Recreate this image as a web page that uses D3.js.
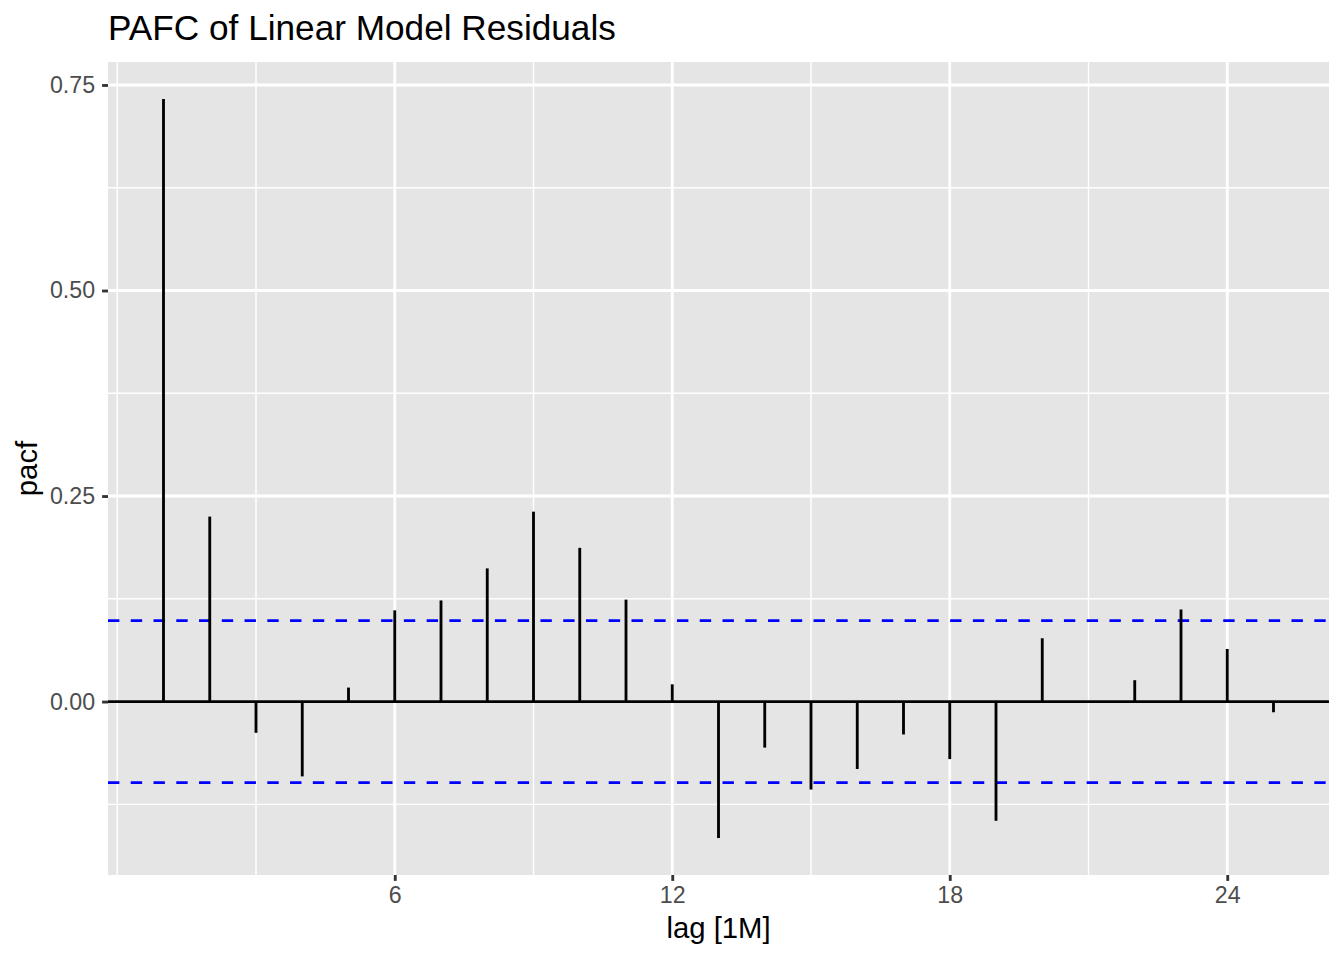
<!DOCTYPE html>
<html>
<head>
<meta charset="utf-8">
<script src="https://cdn.jsdelivr.net/npm/d3@7"></script>
<style>
  html, body { margin: 0; padding: 0; background: #fff; }
  svg { display: block; }
  text { font-family: "Liberation Sans", Arial, Helvetica, sans-serif; }
</style>
</head>
<body>
<svg id="chart" width="1344" height="960"></svg>
<script>
// ---- data ----
const lags = [1,2,3,4,5,6,7,8,9,10,11,12,13,14,15,16,17,18,19,20,21,22,23,24,25];
const pacfValues = [0.733,0.225,-0.038,-0.091,0.017,0.111,0.123,0.162,0.231,0.187,0.124,0.021,
                    -0.166,-0.056,-0.107,-0.082,-0.040,-0.070,-0.145,0.077,0.000,0.026,0.112,0.064,-0.013];
const ciBound = 0.0985;
const xTicks = [6,12,18,24];
const xMinor = [0,3,9,15,21];
const yTicks = [0,0.25,0.5,0.75];
const yTickLabels = ["0.00","0.25","0.50","0.75"];
const yMinor = [-0.125,0.125,0.375,0.625];
const titleText = "PAFC of Linear Model Residuals";
const xTitle = "lag [1M]";
const yTitle = "pacf";

// ---- layout ----
const panel = {left: 108, right: 1329, top: 62, bottom: 875};
const svg = d3.select("#chart");

const lagMin = d3.min(lags), lagMax = d3.max(lags);
const xPad = (lagMax - lagMin) * 0.05;
const x = d3.scaleLinear().domain([lagMin - xPad, lagMax + xPad]).range([panel.left, panel.right]);
const vMin = Math.min(0, d3.min(pacfValues), -ciBound), vMax = d3.max(pacfValues);
const yPad = (vMax - vMin) * 0.05;
const y = d3.scaleLinear().domain([vMin - yPad, vMax + yPad]).range([panel.bottom, panel.top]);

const lw = 2.85;

// panel background
svg.append("rect")
  .attr("x", panel.left).attr("y", panel.top)
  .attr("width", panel.right - panel.left).attr("height", panel.bottom - panel.top)
  .attr("fill", "#E5E5E5");

const grid = svg.append("g");
grid.selectAll(".xminor").data(xMinor).join("line")
  .attr("x1", d => x(d)).attr("x2", d => x(d))
  .attr("y1", panel.top).attr("y2", panel.bottom)
  .attr("stroke", "#fff").attr("stroke-width", lw / 2);
grid.selectAll(".yminor").data(yMinor).join("line")
  .attr("y1", d => y(d)).attr("y2", d => y(d))
  .attr("x1", panel.left).attr("x2", panel.right)
  .attr("stroke", "#fff").attr("stroke-width", lw / 2);
grid.selectAll(".xmajor").data(xTicks).join("line")
  .attr("x1", d => x(d)).attr("x2", d => x(d))
  .attr("y1", panel.top).attr("y2", panel.bottom)
  .attr("stroke", "#fff").attr("stroke-width", lw);
grid.selectAll(".ymajor").data(yTicks).join("line")
  .attr("y1", d => y(d)).attr("y2", d => y(d))
  .attr("x1", panel.left).attr("x2", panel.right)
  .attr("stroke", "#fff").attr("stroke-width", lw);

// confidence bounds
svg.selectAll(".ci").data([ciBound, -ciBound]).join("line")
  .attr("x1", panel.left).attr("x2", panel.right)
  .attr("y1", d => y(d)).attr("y2", d => y(d))
  .attr("stroke", "#0000FF").attr("stroke-width", lw)
  .attr("stroke-dasharray", "11.38,11.38");

// zero line
svg.append("line")
  .attr("x1", panel.left).attr("x2", panel.right)
  .attr("y1", y(0)).attr("y2", y(0))
  .attr("stroke", "#000").attr("stroke-width", lw);

// spikes
svg.selectAll(".spike").data(lags).join("line")
  .attr("x1", d => x(d)).attr("x2", d => x(d))
  .attr("y1", y(0)).attr("y2", (d, i) => y(pacfValues[i]))
  .attr("stroke", "#000").attr("stroke-width", lw);

// axes
const xAxis = d3.axisBottom(x).tickValues(xTicks).tickSize(5.9).tickPadding(6).tickFormat(d3.format("d"));
const gx = svg.append("g").attr("transform", `translate(0,${panel.bottom})`).call(xAxis);
gx.select(".domain").remove();
gx.selectAll(".tick line").attr("stroke", "#333").attr("stroke-width", lw);
gx.selectAll(".tick text").attr("fill", "#4D4D4D").attr("font-size", 23.2)
  .attr("font-family", "Liberation Sans, Arial, sans-serif");

const yAxis = d3.axisLeft(y).tickValues(yTicks).tickSize(5.9).tickPadding(7)
  .tickFormat((d, i) => yTickLabels[i]);
const gy = svg.append("g").attr("transform", `translate(${panel.left},0)`).call(yAxis);
gy.select(".domain").remove();
gy.selectAll(".tick line").attr("stroke", "#333").attr("stroke-width", lw);
gy.selectAll(".tick text").attr("fill", "#4D4D4D").attr("font-size", 23.2)
  .attr("font-family", "Liberation Sans, Arial, sans-serif");

// titles
svg.append("text")
  .attr("x", panel.left).attr("y", 40)
  .attr("font-size", 35.2).attr("fill", "#000")
  .text(titleText);

svg.append("text")
  .attr("x", (panel.left + panel.right) / 2).attr("y", 938)
  .attr("text-anchor", "middle").attr("font-size", 29.3).attr("fill", "#000")
  .text(xTitle);

svg.append("text")
  .attr("transform", `translate(37,${(panel.top + panel.bottom) / 2}) rotate(-90)`)
  .attr("text-anchor", "middle").attr("font-size", 29.3).attr("fill", "#000")
  .text(yTitle);
</script>
</body>
</html>
